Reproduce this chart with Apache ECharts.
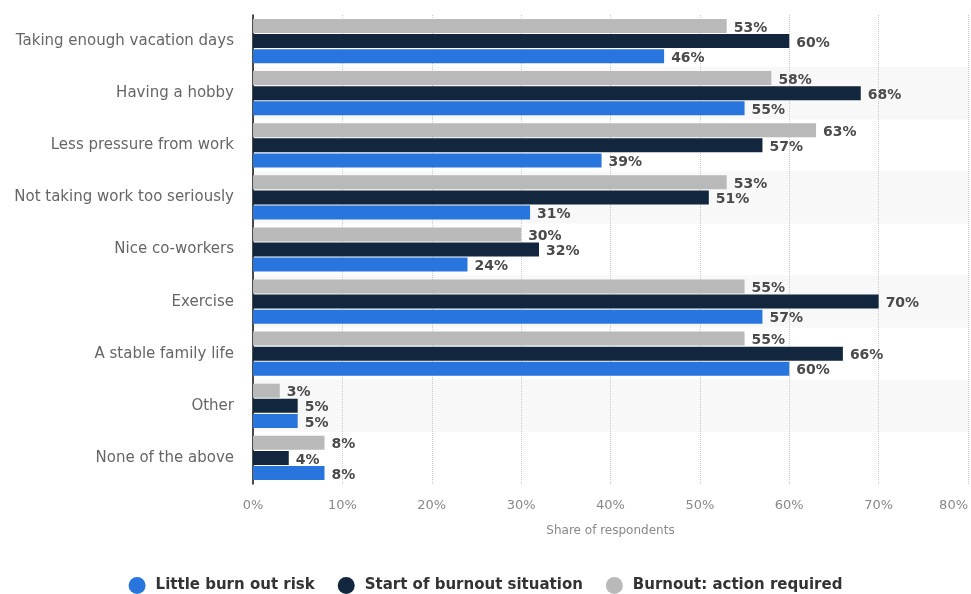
<!DOCTYPE html>
<html>
<head>
<meta charset="utf-8">
<script src="https://cdn.jsdelivr.net/npm/echarts@6/dist/echarts.min.js"></script>
<style>
  html, body { margin: 0; padding: 0; background: #fff; }
  #chart { width: 971px; height: 594px; }
</style>
</head>
<body>
<div id="chart"></div>
<script>
// Factors that help against burnout, by respondent group (share in %)
const categories = [
  'Taking enough vacation days',
  'Having a hobby',
  'Less pressure from work',
  'Not taking work too seriously',
  'Nice co-workers',
  'Exercise',
  'A stable family life',
  'Other',
  'None of the above'
];
const actionRequired = [53, 58, 63, 53, 30, 55, 55, 3, 8];
const startOfBurnout = [60, 68, 57, 51, 32, 70, 66, 5, 4];
const littleRisk = [46, 55, 39, 31, 24, 57, 60, 5, 8];
const xTicks = [0, 10, 20, 30, 40, 50, 60, 70, 80];

const FONT = 'DejaVu Sans';

function barSeries(name, data, color) {
  return {
    name: name,
    type: 'bar',
    data: data,
    barWidth: 14,
    barGap: '8%',
    itemStyle: { color: color },
    label: {
      show: true,
      position: 'right',
      distance: 7,
      offset: [0, 2],
      formatter: p => p.value + '%',
      color: '#4a4a4a',
      fontFamily: FONT,
      fontWeight: 'bold',
      fontSize: 14
    }
  };
}

const chart = echarts.init(document.getElementById('chart'), null, { renderer: 'canvas' });
chart.setOption({
  animation: false,
  backgroundColor: '#fff',
  grid: {
    left: 253, right: 3, top: 15, bottom: 110,
    containLabel: false,
    outerBoundsMode: 'none'
  },
  legend: {
    top: 572,
    left: 'center',
    icon: 'circle',
    itemWidth: 17,
    itemHeight: 17,
    itemGap: 23,
    data: ['Little burn out risk', 'Start of burnout situation', 'Burnout: action required'],
    textStyle: {
      fontFamily: FONT,
      fontWeight: 'bold',
      fontSize: 15,
      color: '#333',
      padding: [0, 0, 0, 5]
    }
  },
  xAxis: {
    type: 'value',
    min: xTicks[0],
    max: xTicks[xTicks.length - 1],
    interval: 10,
    name: 'Share of respondents',
    nameLocation: 'middle',
    nameGap: 41,
    nameTextStyle: { fontFamily: FONT, fontSize: 12, color: '#888' },
    axisLine: { show: false },
    axisTick: { show: false },
    axisLabel: {
      formatter: v => v + '%',
      margin: 15,
      fontFamily: FONT,
      fontSize: 13,
      color: '#888',
      alignMaxLabel: 'right'
    },
    splitLine: {
      show: true,
      lineStyle: { type: 'dotted', color: '#c8c8c8', width: 1 }
    }
  },
  yAxis: {
    type: 'category',
    data: categories,
    inverse: true,
    axisLine: { show: true, lineStyle: { color: '#111', width: 1.5 } },
    axisTick: { show: false },
    axisLabel: {
      margin: 19,
      fontFamily: FONT,
      fontSize: 15,
      color: '#666'
    },
    splitLine: { show: false },
    splitArea: {
      show: true,
      areaStyle: { color: ['rgba(255,255,255,0)', '#f8f8f8'] }
    }
  },
  series: [
    barSeries('Burnout: action required', actionRequired, '#b9b9b9'),
    barSeries('Start of burnout situation', startOfBurnout, '#12263d'),
    barSeries('Little burn out risk', littleRisk, '#2876dd')
  ]
});
</script>
</body>
</html>
